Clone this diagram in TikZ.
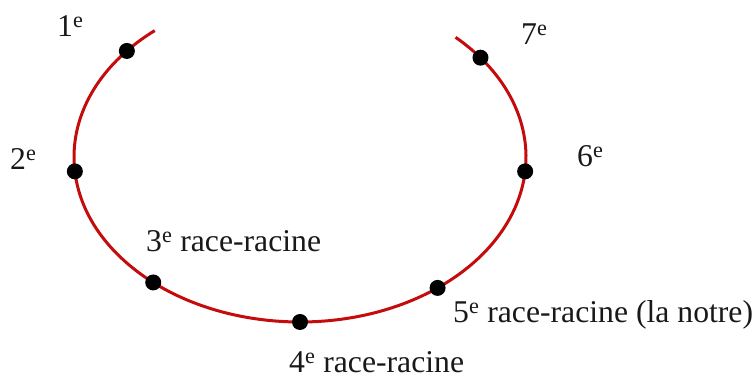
\documentclass[tikz,border=0pt]{standalone}
\usepackage{fontspec}
\setmainfont{Liberation Serif}
\definecolor{ringred}{RGB}{196,12,12}
\begin{document}
\begin{tikzpicture}[x=1pt,y=1pt,
  ring/.style={draw=ringred,line width=3pt},
  dot/.style={circle,fill=black,inner sep=0pt,minimum size=16pt},
  lab/.style={anchor=base west,inner sep=0pt,font=\fontsize{31.7}{38}\selectfont,text=black!90}]
\useasboundingbox (0,0) rectangle (755,379);
\coordinate (c) at (300,222);
\draw[ring] ([shift={(c)}]130:226 and 165) arc[start angle=130,end angle=406.5,x radius=226,y radius=165];
\node[dot] (d1) at ([shift={(c)}]140:226 and 165) {};
\node[dot] (d2) at ([shift={(c)}]185:226 and 165) {};
\node[dot] (d3) at ([shift={(c)}]229.5:226 and 165) {};
\node[dot] (d4) at ([shift={(c)}]270:226 and 165) {};
\node[dot] (d5) at ([shift={(c)}]307.5:226 and 165) {};
\node[dot] (d6) at ([shift={(c)}]355:226 and 165) {};
\node[dot] (d7) at ([shift={(c)}]37:226 and 165) {};
\node[lab] (l1) at (57,342) {1\textsuperscript{e}};
\node[lab] (l7) at (521,334) {7\textsuperscript{e}};
\node[lab] (l2) at (10,209) {2\textsuperscript{e}};
\node[lab] (l6) at (577,212) {6\textsuperscript{e}};
\node[lab] (l3) at (146,127) {3\textsuperscript{e} race-racine};
\node[lab] (l5) at (453,56) {5\textsuperscript{e} race-racine (la notre)};
\node[lab] (l4) at (289,6) {4\textsuperscript{e} race-racine};
\end{tikzpicture}
\end{document}
